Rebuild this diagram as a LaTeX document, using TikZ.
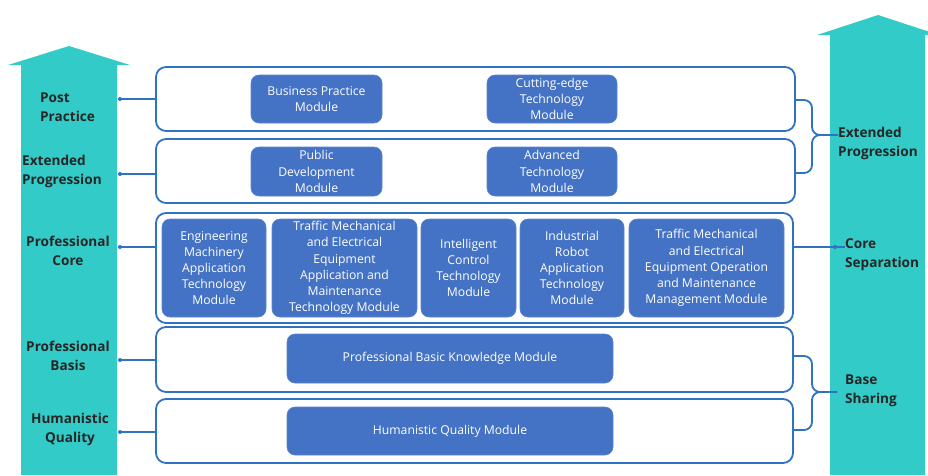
\documentclass[tikz,border=0pt]{standalone}
\usepackage{fontspec}
\setmainfont{Open Sans}
\begin{document}
\begin{tikzpicture}[x=1pt,y=-1pt,
  rowbox/.style={draw=rowblue,line width=1.8pt,fill=white,rounded corners=10pt,inner sep=0pt},
  modbox/.style={draw=modedge,line width=0.6pt,fill=modblue,rounded corners=8pt,text=white,
     font=\fontsize{12.2}{16.2}\selectfont,align=center,inner sep=1pt},
  conn/.style={draw=rowblue,line width=1.5pt},
  brace/.style={draw=rowblue,line width=1.8pt,rounded corners=8pt},
  lab/.style={font=\fontsize{13.6}{19}\selectfont\bfseries,text=black!85,inner sep=0pt},
  dotn/.style={circle,fill=rowblue,inner sep=0pt,minimum size=4pt}
]
\definecolor{arrowteal}{HTML}{33CBC8}
\definecolor{rowblue}{HTML}{2E72C2}
\definecolor{modblue}{HTML}{4472C4}
\definecolor{modedge}{HTML}{5A86CF}
\useasboundingbox (0,0) rectangle (928,475);
% big arrows
\fill[arrowteal] (21,475) -- (21,65) -- (8,65) -- (69,46) -- (130,65) -- (117,65) -- (117,475) -- cycle;
\fill[arrowteal] (830,475) -- (830,35) -- (817,35) -- (878,15) -- (939,35) -- (925,35) -- (925,475) -- cycle;
% rows
\node[rowbox,minimum width=639pt,minimum height=64pt] (row1) at (475.5,99) {};
\node[rowbox,minimum width=639pt,minimum height=64pt] (row2) at (475.5,171) {};
\node[rowbox,minimum width=637pt,minimum height=110pt] (row3) at (474.5,268) {};
\node[rowbox,minimum width=637pt,minimum height=65pt] (row4) at (474.5,359.5) {};
\node[rowbox,minimum width=637pt,minimum height=64pt] (row5) at (474.5,431) {};
% modules
\node[modbox,minimum width=131pt,minimum height=48pt] (bp) at (316.5,99) {Business Practice\\Module};
\node[modbox,minimum width=130pt,minimum height=48pt] (ct) at (552,99) {Cutting-edge\\Technology\\Module};
\node[modbox,minimum width=131pt,minimum height=49pt] (pd) at (316.5,171.5) {Public\\Development\\Module};
\node[modbox,minimum width=130pt,minimum height=49pt] (at) at (552,171.5) {Advanced\\Technology\\Module};
\node[modbox,minimum width=104pt,minimum height=98pt] (m1) at (214,268) {Engineering\\Machinery\\Application\\Technology\\Module};
\node[modbox,minimum width=145pt,minimum height=98pt] (m2) at (344.5,268) {Traffic Mechanical\\and Electrical\\Equipment\\Application and\\Maintenance\\Technology Module};
\node[modbox,minimum width=95pt,minimum height=98pt] (m3) at (468.5,268) {Intelligent\\Control\\Technology\\Module};
\node[modbox,minimum width=104pt,minimum height=98pt] (m4) at (572,268) {Industrial\\Robot\\Application\\Technology\\Module};
\node[modbox,minimum width=155pt,minimum height=98pt] (m5) at (706.5,268) {Traffic Mechanical\\and Electrical\\Equipment Operation\\and Maintenance\\Management Module};
\node[modbox,minimum width=326pt,minimum height=49pt] (pbk) at (450,358.5) {Professional Basic Knowledge Module};
\node[modbox,minimum width=326pt,minimum height=48pt] (hq) at (450,431) {Humanistic Quality Module};
% left labels
\node[lab,align=left,anchor=west] (l1) at (40,107.5) {Post\\Practice};
\node[lab,align=left,anchor=west] (l2) at (22,171) {Extended\\Progression};
\node[lab,align=center] (l3) at (68,251) {Professional\\Core};
\node[lab,align=center] (l4) at (68,356) {Professional\\Basis};
\node[lab,align=center] (l5) at (70,429) {Humanistic\\Quality};
% left dots and connectors
\node[dotn] (d1) at (120,99) {};
\node[dotn] (d2) at (120,174) {};
\node[dotn] (d3) at (120,247) {};
\node[dotn] (d4) at (120,360) {};
\node[dotn] (d5) at (120,432) {};
\draw[conn] (d1.center) -- (d1 -| row1.west);
\draw[conn] (d2.center) -- (d2 -| row2.west);
\draw[conn] (d3.center) -- (d3 -| row3.west);
\draw[conn] (d4.center) -- (d4 -| row4.west);
\draw[conn] (d5.center) -- (d5 -| row5.west);
% right labels
\node[lab,align=left,anchor=west] (r1) at (838,143) {Extended\\Progression};
\node[lab,align=left,anchor=west] (r2) at (845,255) {Core\\Separation};
\node[lab,align=left,anchor=west] (r3) at (845,391) {Base\\Sharing};
% right braces
\coordinate (e1) at (row1.east |- 0,100);
\coordinate (e2) at (row2.east |- 0,173);
\draw[brace] (e1) -- (812,100) -- (812,135) -- (r1.west |- 0,135);
\draw[brace] (e2) -- (812,173) -- (812,135) -- (r1.west |- 0,135);
\node[dotn] (d6) at (835,247) {};
\draw[conn] (d6 -| row3.east) -- (d6.center) -- (r2.west |- d6);
\coordinate (b1) at (row4.east |- 0,356);
\coordinate (b2) at (row5.east |- 0,430);
\draw[brace] (b1) -- (812,356) -- (812,392) -- (837,392);
\draw[brace] (b2) -- (812,430) -- (812,392) -- (837,392);
\end{tikzpicture}
\end{document}
